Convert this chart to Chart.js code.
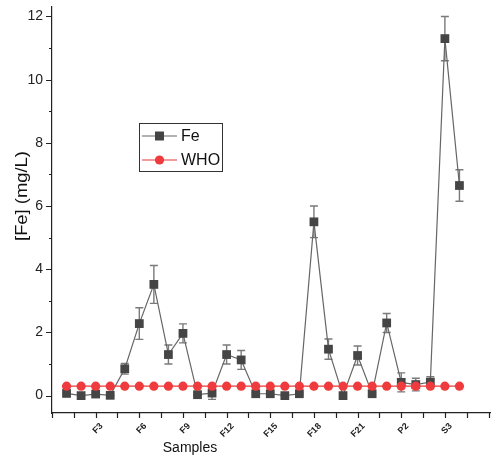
<!DOCTYPE html>
<html>
<head>
<meta charset="utf-8">
<script src="https://cdn.jsdelivr.net/npm/chart.js@4.4.0/dist/chart.umd.min.js"></script>
<style>
  html, body { margin: 0; padding: 0; background: #fff; }
  #wrap { width: 492px; height: 459px; }
</style>
</head>
<body>
<div id="wrap"><canvas id="feChart" width="492" height="459"></canvas></div>
<script>
// sample names along the x axis (only every third one is labelled)
const samples = ['F1', 'F2', 'F3', 'F4', 'F5', 'F6', 'F7', 'F8', 'F9', 'F10', 'F11',
  'F12', 'F13', 'F14', 'F15', 'F16', 'F17', 'F18', 'F19', 'F20', 'F21', 'F22',
  'P1', 'P2', 'S1', 'S2', 'S3', 'S4'];
const labeledSamples = ['F3', 'F6', 'F9', 'F12', 'F15', 'F18', 'F21', 'P2', 'S3'];

// measured iron, mg/L, and its error bars
const feValues = [0.07, 0.0, 0.05, 0.01, 0.85, 2.28, 3.52, 1.3, 1.97, 0.03, 0.08,
  1.3, 1.13, 0.06, 0.06, 0.0, 0.06, 5.5, 1.47, 0.0, 1.27, 0.06,
  2.3, 0.42, 0.35, 0.43, 11.3, 6.65];
const feErrors = [0.03, 0.02, 0.03, 0.02, 0.17, 0.5, 0.6, 0.3, 0.3, 0.03, 0.2,
  0.3, 0.3, 0.04, 0.04, 0.03, 0.04, 0.5, 0.32, 0.03, 0.3, 0.03,
  0.3, 0.3, 0.2, 0.17, 0.7, 0.5];

// WHO guideline value
const whoValues = [0.3, 0.3, 0.3, 0.3, 0.3, 0.3, 0.3, 0.3, 0.3, 0.3, 0.3,
  0.3, 0.3, 0.3, 0.3, 0.3, 0.3, 0.3, 0.3, 0.3, 0.3, 0.3,
  0.3, 0.3, 0.3, 0.3, 0.3, 0.3];

const yTickValues = [0, 2, 4, 6, 8, 10, 12];
const yMinorTicks = [1, 3, 5, 7, 9, 11];

const FONT = "'Liberation Sans', Arial, sans-serif";
const AXIS_COLOR = '#222';

const toPoints = (vals) => vals.map((v, i) => ({ x: i, y: v }));

// x ticks: major every 3 samples starting one step before F1, minor halfway
const xMajor = [];
const xMinor = [];
for (let v = -1; v <= 29; v += 3) xMajor.push(v);
for (let v = 0.5; v < 29; v += 3) xMinor.push(v);

const originPlugin = {
  id: 'originLook',
  beforeDatasetsDraw(chart) {
    const { ctx } = chart;
    const xs = chart.scales.x;
    const ys = chart.scales.y;
    ctx.save();
    ctx.strokeStyle = '#7a7a7a';
    ctx.lineWidth = 1.4;
    feValues.forEach((v, i) => {
      const px = xs.getPixelForValue(i);
      const top = ys.getPixelForValue(v + feErrors[i]);
      const bot = ys.getPixelForValue(v - feErrors[i]);
      ctx.beginPath();
      ctx.moveTo(px, top); ctx.lineTo(px, bot);
      ctx.moveTo(px - 4, top); ctx.lineTo(px + 4, top);
      ctx.moveTo(px - 4, bot); ctx.lineTo(px + 4, bot);
      ctx.stroke();
    });
    ctx.restore();
  },
  afterDraw(chart) {
    const { ctx, chartArea } = chart;
    const xs = chart.scales.x;
    const ys = chart.scales.y;
    ctx.save();
    ctx.strokeStyle = AXIS_COLOR;
    ctx.lineWidth = 1.2;
    ctx.beginPath();
    xMajor.concat(xMinor).forEach(v => {
      const px = Math.round(xs.getPixelForValue(v)) + 0.5;
      ctx.moveTo(px, chartArea.bottom);
      ctx.lineTo(px, chartArea.bottom + 5);
    });
    yTickValues.forEach(v => {
      const py = Math.round(ys.getPixelForValue(v)) + 0.5;
      ctx.moveTo(chartArea.left, py);
      ctx.lineTo(chartArea.left - 6, py);
    });
    yMinorTicks.forEach(v => {
      const py = Math.round(ys.getPixelForValue(v)) + 0.5;
      ctx.moveTo(chartArea.left, py);
      ctx.lineTo(chartArea.left - 3, py);
    });
    ctx.stroke();

    // axis titles
    ctx.fillStyle = '#111';
    ctx.font = '14px ' + FONT;
    ctx.textAlign = 'center';
    ctx.textBaseline = 'alphabetic';
    ctx.fillText('Samples', 190, 452);

    ctx.save();
    ctx.translate(27, 196);
    ctx.rotate(-Math.PI / 2);
    ctx.scale(1.15, 1);
    ctx.font = '16px ' + FONT;
    ctx.textBaseline = 'alphabetic';
    ctx.fillText('[Fe] (mg/L)', 0, 0);
    ctx.restore();

    // legend box
    ctx.strokeStyle = '#333';
    ctx.lineWidth = 1;
    ctx.strokeRect(139.5, 123.5, 83, 48);
    const rows = [
      { label: chart.data.datasets[0].label, y: 136, line: '#666', fill: '#444', shape: 'rect' },
      { label: chart.data.datasets[1].label, y: 160, line: '#e8383a', fill: '#ef3b3e', shape: 'circle' }
    ];
    rows.forEach(r => {
      ctx.strokeStyle = r.line;
      ctx.lineWidth = 1.2;
      ctx.beginPath();
      ctx.moveTo(142, r.y); ctx.lineTo(177, r.y);
      ctx.stroke();
      ctx.fillStyle = r.fill;
      if (r.shape === 'rect') {
        ctx.fillRect(155, r.y - 4.5, 9, 9);
      } else {
        ctx.beginPath();
        ctx.arc(159.5, r.y, 4.6, 0, Math.PI * 2);
        ctx.fill();
      }
      ctx.fillStyle = '#111';
      ctx.font = '16px ' + FONT;
      ctx.textAlign = 'left';
      ctx.textBaseline = 'middle';
      ctx.fillText(r.label, 181, r.y + 1);
    });
    ctx.restore();
  }
};

new Chart(document.getElementById('feChart'), {
  type: 'line',
  data: {
    datasets: [
      {
        label: 'Fe',
        data: toPoints(feValues),
        borderColor: '#666',
        borderWidth: 1.2,
        pointStyle: 'rect',
        pointRadius: 6.2,
        pointBackgroundColor: '#454545',
        pointBorderColor: '#454545',
        pointBorderWidth: 0,
        order: 1
      },
      {
        label: 'WHO',
        data: toPoints(whoValues),
        borderColor: '#e8383a',
        borderWidth: 1.2,
        pointStyle: 'circle',
        pointRadius: 4.6,
        pointBackgroundColor: '#ef3b3e',
        pointBorderColor: '#ef3b3e',
        pointBorderWidth: 0,
        order: 0
      }
    ]
  },
  options: {
    responsive: false,
    animation: false,
    devicePixelRatio: 1,
    layout: { autoPadding: false, padding: { top: 7, right: 2, left: 0, bottom: 0 } },
    plugins: { legend: { display: false }, tooltip: { enabled: false } },
    scales: {
      x: {
        type: 'linear',
        min: -1,
        max: 29.1,
        afterFit(scale) {
          scale.height = 46;
          scale.paddingLeft = 0;
          scale.paddingRight = 0;
        },
        afterBuildTicks(scale) {
          scale.ticks = xMajor.concat(xMinor).sort((a, b) => a - b).map(v => ({ value: v }));
        },
        grid: { display: false, drawTicks: true, tickLength: 5 },
        border: { display: true, color: AXIS_COLOR, width: 1.2 },
        ticks: {
          autoSkip: false,
          minRotation: 45,
          maxRotation: 45,
          labelOffset: 6,
          padding: 3,
          color: '#222',
          font: { family: FONT, size: 9, weight: 'bold' },
          callback(value) {
            const i = Math.round(value);
            if (Math.abs(value - i) > 1e-6) return '';
            const name = samples[i];
            return labeledSamples.includes(name) ? name : '';
          }
        }
      },
      y: {
        type: 'linear',
        min: -0.55,
        max: 12.3,
        afterFit(scale) {
          scale.width = 52;
          scale.paddingTop = 0;
          scale.paddingBottom = 0;
        },
        afterBuildTicks(scale) {
          scale.ticks = yTickValues.map(v => ({ value: v }));
        },
        grid: { display: false, drawTicks: true, tickLength: 6 },
        border: { display: true, color: AXIS_COLOR, width: 1.2 },
        ticks: {
          padding: 3,
          color: '#222',
          font: { family: FONT, size: 14 }
        }
      }
    }
  },
  plugins: [originPlugin]
});
</script>
</body>
</html>
